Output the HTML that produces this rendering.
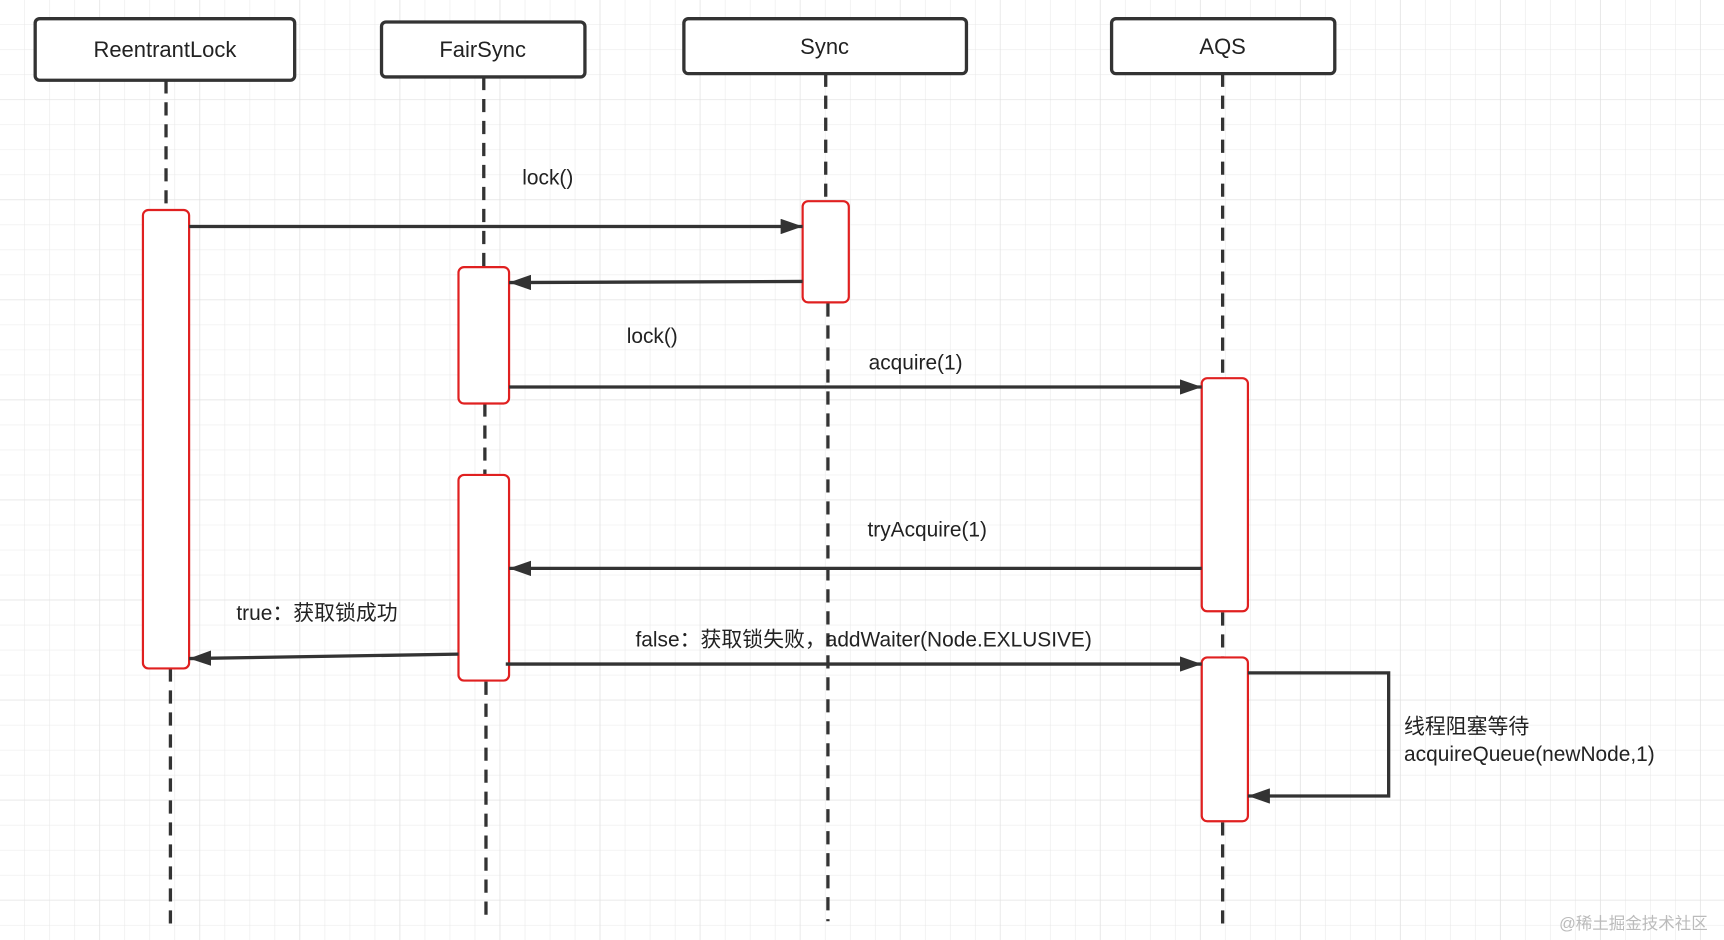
<!DOCTYPE html>
<html><head><meta charset="utf-8"><style>
html,body{margin:0;padding:0;background:#fff;}
svg{display:block;}
text{font-family:"Liberation Sans","Noto Sans CJK SC",sans-serif;fill:#222;}
</style></head><body>
<svg width="1724" height="940" viewBox="0 0 1568 855" preserveAspectRatio="none" xmlns="http://www.w3.org/2000/svg">
<defs>
<pattern id="g" width="22.75" height="22.75" patternUnits="userSpaceOnUse">
<path d="M22.75 0V22.75M0 22.75H22.75" stroke="#e8e8e8" stroke-width="1" fill="none"/>
</pattern>
<pattern id="G" width="91" height="91" patternUnits="userSpaceOnUse">
<path d="M91 0V91M0 91H91" stroke="#e2e2e2" stroke-width="1.2" fill="none"/>
</pattern>
<marker id="b" viewBox="0 0 20 14" markerWidth="20" markerHeight="14" refX="20" refY="7" orient="auto" markerUnits="userSpaceOnUse">
<path d="M0,0 L20,7 L0,14 z" fill="#333"/>
</marker>
</defs>
<rect width="1568" height="855" fill="#fff"/>
<rect width="1568" height="855" fill="url(#g)"/>
<rect width="1568" height="855" fill="url(#G)"/>

<g stroke="#333" stroke-width="3" stroke-dasharray="12,8" fill="none">
<path d="M151 73V190M155 608V840"/>
<path d="M440 70V243M441 367V432M442 620V838"/>
<path d="M751 67V182M753 276V838"/>
<path d="M1112 67V344M1112 557V598M1112 748V840"/>
</g>

<g fill="#fff" stroke="#333" stroke-width="3">
<rect x="32" y="17" width="236" height="56" rx="4"/>
<rect x="347" y="20" width="185" height="50" rx="4"/>
<rect x="622" y="17" width="257" height="50" rx="4"/>
<rect x="1011" y="17" width="203" height="50" rx="4"/>
</g>
<g font-size="20" text-anchor="middle">
<text x="150" y="52">ReentrantLock</text>
<text x="439" y="52">FairSync</text>
<text x="750" y="49">Sync</text>
<text x="1112" y="49">AQS</text>
</g>

<g fill="#fff" stroke="#e02020" stroke-width="2">
<rect x="130" y="191" width="42" height="417" rx="5"/>
<rect x="730" y="183" width="42" height="92" rx="5"/>
<rect x="417" y="243" width="46" height="124" rx="5"/>
<rect x="1093" y="344" width="42" height="212" rx="5"/>
<rect x="417" y="432" width="46" height="187" rx="5"/>
<rect x="1093" y="598" width="42" height="149" rx="5"/>
</g>

<g stroke="#333" stroke-width="3" fill="none" marker-end="url(#b)">
<path d="M172 206H730"/>
<path d="M730 256L463 257"/>
<path d="M463 352H1093"/>
<path d="M1093 517H463"/>
<path d="M417 595L172 599"/>
<path d="M460 604H1093"/>
<path d="M1135 612H1263V724H1135"/>
</g>

<g font-size="19">
<text x="475" y="168">lock()</text>
<text x="570" y="312">lock()</text>
<text x="790" y="336">acquire(1)</text>
<text x="789" y="488">tryAcquire(1)</text>
<text x="215" y="564">true：获取锁成功</text>
<text x="578" y="588">false：获取锁失败，addWaiter(Node.EXLUSIVE)</text>
<text x="1277" y="667">线程阻塞等待</text>
<text x="1277" y="692">acquireQueue(newNode,1)</text>
</g>
<text x="1418" y="845" font-size="15" style="fill:#bbb">@稀土掘金技术社区</text>
</svg>
</body></html>
